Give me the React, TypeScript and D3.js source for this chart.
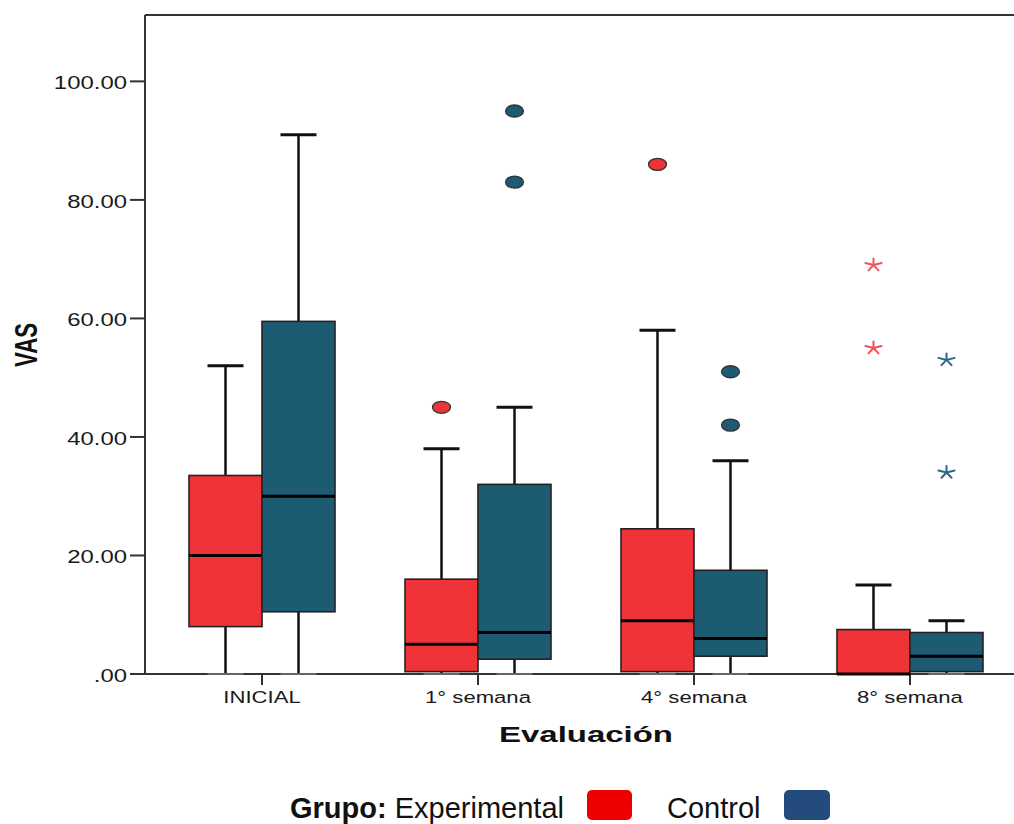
import React from "react";
import * as d3 from "d3";

const categories = ["INICIAL", "1° semana", "4° semana", "8° semana"];
const groups = ["Experimental", "Control"];

// Experimental group box statistics
const expMin = [0, 0, 0, 0];
const expQ1 = [8, 0.4, 0.4, 0];
const expMedian = [20, 5, 9, 0];
const expQ3 = [33.5, 16, 24.5, 7.5];
const expMax = [52, 38, 58, 15];
const expOutliers = [[], [45], [86], []];
const expExtremes = [[], [], [], [55, 69]];

// Control group box statistics
const ctlMin = [0, 0, 0, 0];
const ctlQ1 = [10.5, 2.5, 3, 0.4];
const ctlMedian = [30, 7, 6, 3];
const ctlQ3 = [59.5, 32, 17.5, 7];
const ctlMax = [91, 45, 36, 9];
const ctlOutliers = [[], [83, 95], [42, 51], []];
const ctlExtremes = [[], [], [], [34, 53]];

const yTicks = [0, 20, 40, 60, 80, 100];

const W = 1014;
const H = 824;
const left = 145;
const top = 15;
const bottom = 674;
const right = 1027;

const boxFill = { Experimental: "#EF3339", Control: "#1D5B73" };
const starFill = { Experimental: "#F24F59", Control: "#28698A" };
const legendFill = { Experimental: "#EE0000", Control: "#234B7B" };

export default function App() {
  const x = d3
    .scaleBand<string>()
    .domain(categories)
    .range([left, right])
    .paddingInner(0)
    .paddingOuter(0.0417);
  const sub = d3.scaleBand<string>().domain(groups).range([-73, 73]);
  const y = d3.scaleLinear().domain([0, 111.2]).range([bottom, top]);

  const series = [
    { g: "Experimental", min: expMin, q1: expQ1, med: expMedian, q3: expQ3, max: expMax, out: expOutliers, ext: expExtremes },
    { g: "Control", min: ctlMin, q1: ctlQ1, med: ctlMedian, q3: ctlQ3, max: ctlMax, out: ctlOutliers, ext: ctlExtremes },
  ];

  const bw = sub.bandwidth();
  const fmt = (v: number) => (v === 0 ? ".00" : v.toFixed(2));

  const star = (cx: number, cy: number, color: string, key: string) => {
    const arms = d3.range(5).map((i) => {
      const a = -Math.PI / 2 + (i * 2 * Math.PI) / 5;
      return [cx + Math.cos(a) * 8.5, cy + Math.sin(a) * 6.5];
    });
    return (
      <g key={key} stroke={color} strokeWidth={2} strokeLinecap="round">
        {arms.map((p, i) => (
          <line key={i} x1={cx} y1={cy} x2={p[0]} y2={p[1]} />
        ))}
      </g>
    );
  };

  return (
    <svg width={W} height={H} style={{ position: "absolute", left: 0, top: 0, background: "#fff" }}>
      {/* frame */}
      <line x1={left} x2={W + 20} y1={top} y2={top} stroke="#333" strokeWidth={2} />
      <line x1={left} x2={left} y1={top} y2={bottom} stroke="#333" strokeWidth={2} />
      <line x1={left} x2={W + 20} y1={bottom} y2={bottom} stroke="#333" strokeWidth={2} />

      {/* y ticks */}
      {yTicks.map((t) => (
        <g key={t}>
          <line x1={130} x2={left} y1={y(t)} y2={y(t)} stroke="#333" strokeWidth={2} />
          <text
            transform={`translate(127,${y(t) + 8}) scale(1.33,1)`}
            textAnchor="end"
            fontFamily="Liberation Sans, Arial, sans-serif"
            fontSize={18}
            fill="#1a1a1a"
          >
            {fmt(t)}
          </text>
        </g>
      ))}

      {/* x ticks */}
      {categories.map((c) => {
        const cx = x(c)! + x.bandwidth() / 2;
        return (
          <g key={c}>
            <line x1={cx} x2={cx} y1={bottom} y2={bottom + 11} stroke="#333" strokeWidth={2} />
            <text
              transform={`translate(${cx},703) scale(1.3,1)`}
              textAnchor="middle"
              fontFamily="Liberation Sans, Arial, sans-serif"
              fontSize={17}
              fill="#1a1a1a"
            >
              {c}
            </text>
          </g>
        );
      })}

      {/* boxes */}
      {series.map((s) =>
        categories.map((c, i) => {
          const cx = x(c)! + x.bandwidth() / 2;
          const bx = cx + sub(s.g)!;
          const mx = bx + bw / 2;
          return (
            <g key={s.g + c}>
              <line x1={mx} x2={mx} y1={y(s.max[i])} y2={y(s.q3[i])} stroke="#111" strokeWidth={2.5} />
              <line x1={mx} x2={mx} y1={y(s.q1[i])} y2={y(s.min[i])} stroke="#111" strokeWidth={2.5} />
              <line x1={mx - 18} x2={mx + 18} y1={y(s.max[i])} y2={y(s.max[i])} stroke="#111" strokeWidth={3} />
              <line x1={mx - 18} x2={mx + 18} y1={y(s.min[i])} y2={y(s.min[i])} stroke="#666" strokeWidth={2} />
              <rect
                x={bx}
                y={y(s.q3[i])}
                width={bw}
                height={y(s.q1[i]) - y(s.q3[i])}
                fill={boxFill[s.g as keyof typeof boxFill]}
                stroke="#222"
                strokeWidth={1.6}
              />
              <line x1={bx} x2={bx + bw} y1={y(s.med[i])} y2={y(s.med[i])} stroke="#000" strokeWidth={3} />
              {s.out[i].map((v, k) => (
                <ellipse
                  key={"o" + k}
                  cx={mx}
                  cy={y(v)}
                  rx={9}
                  ry={6}
                  fill={boxFill[s.g as keyof typeof boxFill]}
                  stroke="#333"
                  strokeWidth={1.3}
                />
              ))}
              {s.ext[i].map((v, k) => star(mx, y(v), starFill[s.g as keyof typeof starFill], "e" + k))}
            </g>
          );
        })
      )}

      {/* axis titles */}
      <text
        x={586}
        y={742}
        textAnchor="middle"
        fontFamily="Liberation Sans, Arial, sans-serif"
        fontWeight="bold"
        fontSize={22}
        textLength={174}
        lengthAdjust="spacingAndGlyphs"
        fill="#111"
      >
        Evaluación
      </text>
      <text
        transform="translate(37,345) rotate(-90)"
        textAnchor="middle"
        fontFamily="Liberation Sans Narrow, Liberation Sans, Arial, sans-serif"
        fontWeight="bold"
        fontSize={31}
        textLength={44}
        lengthAdjust="spacingAndGlyphs"
        fill="#111"
      >
        VAS
      </text>

      {/* legend */}
      <text x={290} y={818} fontFamily="Liberation Sans, Arial, sans-serif" fontSize={29} fill="#111">
        <tspan fontWeight="bold">Grupo:</tspan>
        <tspan> Experimental</tspan>
      </text>
      <rect x={587} y={790} width={45} height={30} rx={5} fill={legendFill.Experimental} />
      <text x={667} y={818} fontFamily="Liberation Sans, Arial, sans-serif" fontSize={29} fill="#111">
        Control
      </text>
      <rect x={784} y={790} width={46} height={30} rx={5} fill={legendFill.Control} />
    </svg>
  );
}
